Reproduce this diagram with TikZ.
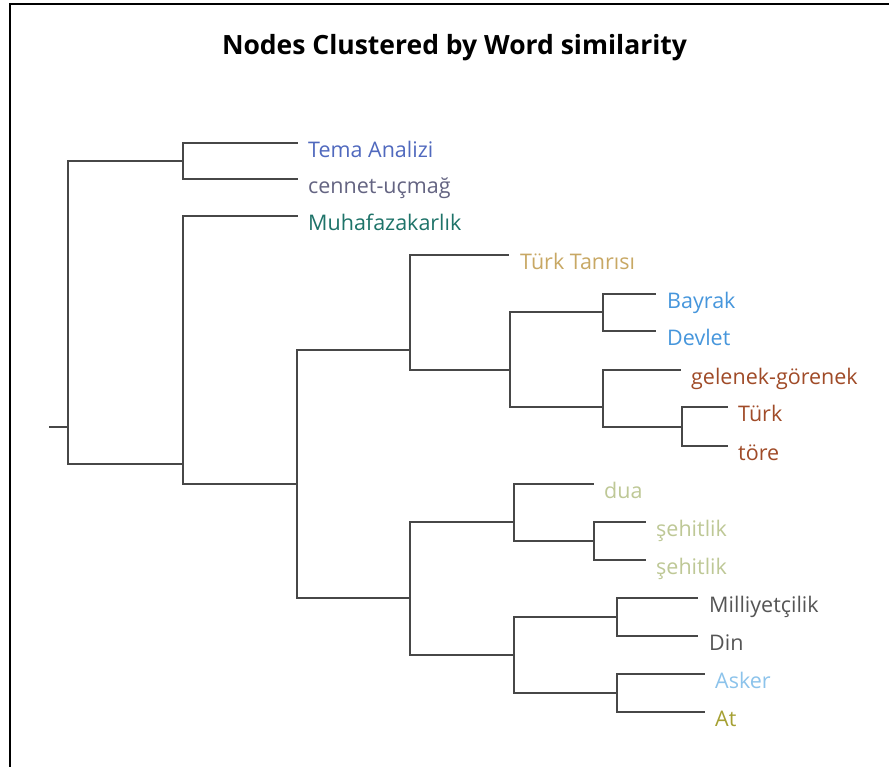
\documentclass[tikz,border=0pt]{standalone}
\usepackage{fontspec}
\setmainfont{Open Sans}
\begin{document}
\begin{tikzpicture}[x=1pt,y=-1pt,
  branch/.style={draw=black!72, line width=2.6pt, line cap=rect},
  leaflabel/.style={anchor=base west, inner sep=0pt, font=\fontsize{21.5}{24}\selectfont},
  frameline/.style={draw=black, line width=2pt}]
\useasboundingbox (0,0) rectangle (889,767);
\fill[white] (0,0) rectangle (889,767);
\draw[frameline] (9.5,767) -- (9.5,4.5) -- (889,4.5);
\node[anchor=base, inner sep=0pt, font=\bfseries\fontsize{26.5}{30}\selectfont] (title) at (454.5,55) {Nodes Clustered by Word similarity};
% internal nodes (x, attach y)
\coordinate (stub) at (50,427);
\coordinate (root) at (68,427);
\coordinate (A) at (183,161);
\coordinate (B) at (183,464);
\coordinate (C) at (297,484);
\coordinate (D) at (410,350);
\coordinate (E) at (510,370);
\coordinate (F) at (603,312);
\coordinate (G) at (603,407);
\coordinate (H) at (682,427);
\coordinate (I) at (410,598);
\coordinate (J) at (514,522);
\coordinate (K) at (594,541);
\coordinate (M) at (514,655);
\coordinate (N) at (617,617);
\coordinate (P) at (617,693);
% leaf ends
\coordinate (l1) at (297,143);
\coordinate (l2) at (297,179);
\coordinate (l3) at (297,216);
\coordinate (l4) at (508,255);
\coordinate (l5) at (655,294);
\coordinate (l6) at (655,331);
\coordinate (l7) at (680,370);
\coordinate (l8) at (727,407);
\coordinate (l9) at (727,446);
\coordinate (l10) at (593,484);
\coordinate (l11) at (645,522);
\coordinate (l12) at (645,560);
\coordinate (l13) at (697,598);
\coordinate (l14) at (697,636);
\coordinate (l15) at (704,674);
\coordinate (l16) at (704,712);
% branches
\draw[branch] (stub) -- (root);
\draw[branch] (root) |- (A);
\draw[branch] (root) |- (B);
\draw[branch] (A) |- (l1);
\draw[branch] (A) |- (l2);
\draw[branch] (B) |- (l3);
\draw[branch] (B) |- (C);
\draw[branch] (C) |- (D);
\draw[branch] (C) |- (I);
\draw[branch] (D) |- (l4);
\draw[branch] (D) |- (E);
\draw[branch] (E) |- (F);
\draw[branch] (E) |- (G);
\draw[branch] (F) |- (l5);
\draw[branch] (F) |- (l6);
\draw[branch] (G) |- (l7);
\draw[branch] (G) |- (H);
\draw[branch] (H) |- (l8);
\draw[branch] (H) |- (l9);
\draw[branch] (I) |- (J);
\draw[branch] (I) |- (M);
\draw[branch] (J) |- (l10);
\draw[branch] (J) |- (K);
\draw[branch] (K) |- (l11);
\draw[branch] (K) |- (l12);
\draw[branch] (M) |- (N);
\draw[branch] (M) |- (P);
\draw[branch] (N) |- (l13);
\draw[branch] (N) |- (l14);
\draw[branch] (P) |- (l15);
\draw[branch] (P) |- (l16);
% labels
\node[leaflabel, text={rgb,255:red,80;green,105;blue,190}] (t1) at ([xshift=11pt,yshift=-14.5pt]l1) {Tema Analizi};
\node[leaflabel, text={rgb,255:red,100;green,100;blue,130}] (t2) at ([xshift=11pt,yshift=-14.5pt]l2) {cennet-uçmağ};
\node[leaflabel, text={rgb,255:red,30;green,115;blue,105}] (t3) at ([xshift=11pt,yshift=-14.5pt]l3) {Muhafazakarlık};
\node[leaflabel, text={rgb,255:red,200;green,168;blue,100}] (t4) at ([xshift=12pt,yshift=-14.5pt]l4) {Türk Tanrısı};
\node[leaflabel, text={rgb,255:red,70;green,150;blue,220}] (t5) at ([xshift=12pt,yshift=-14.5pt]l5) {Bayrak};
\node[leaflabel, text={rgb,255:red,70;green,150;blue,220}] (t6) at ([xshift=12pt,yshift=-14.5pt]l6) {Devlet};
\node[leaflabel, text={rgb,255:red,160;green,75;blue,40}] (t7) at ([xshift=11pt,yshift=-14.5pt]l7) {gelenek-görenek};
\node[leaflabel, text={rgb,255:red,160;green,75;blue,40}] (t8) at ([xshift=11pt,yshift=-14.5pt]l8) {Türk};
\node[leaflabel, text={rgb,255:red,160;green,75;blue,40}] (t9) at ([xshift=11pt,yshift=-14.5pt]l9) {töre};
\node[leaflabel, text={rgb,255:red,190;green,200;blue,150}] (t10) at ([xshift=11pt,yshift=-14.5pt]l10) {dua};
\node[leaflabel, text={rgb,255:red,190;green,200;blue,150}] (t11) at ([xshift=11pt,yshift=-14.5pt]l11) {şehitlik};
\node[leaflabel, text={rgb,255:red,190;green,200;blue,150}] (t12) at ([xshift=11pt,yshift=-14.5pt]l12) {şehitlik};
\node[leaflabel, text={rgb,255:red,85;green,85;blue,85}] (t13) at ([xshift=12pt,yshift=-14.5pt]l13) {Milliyetçilik};
\node[leaflabel, text={rgb,255:red,85;green,85;blue,85}] (t14) at ([xshift=12pt,yshift=-14.5pt]l14) {Din};
\node[leaflabel, text={rgb,255:red,140;green,195;blue,235}] (t15) at ([xshift=11pt,yshift=-14.5pt]l15) {Asker};
\node[leaflabel, text={rgb,255:red,165;green,160;blue,50}] (t16) at ([xshift=11pt,yshift=-14.5pt]l16) {At};
\end{tikzpicture}
\end{document}
